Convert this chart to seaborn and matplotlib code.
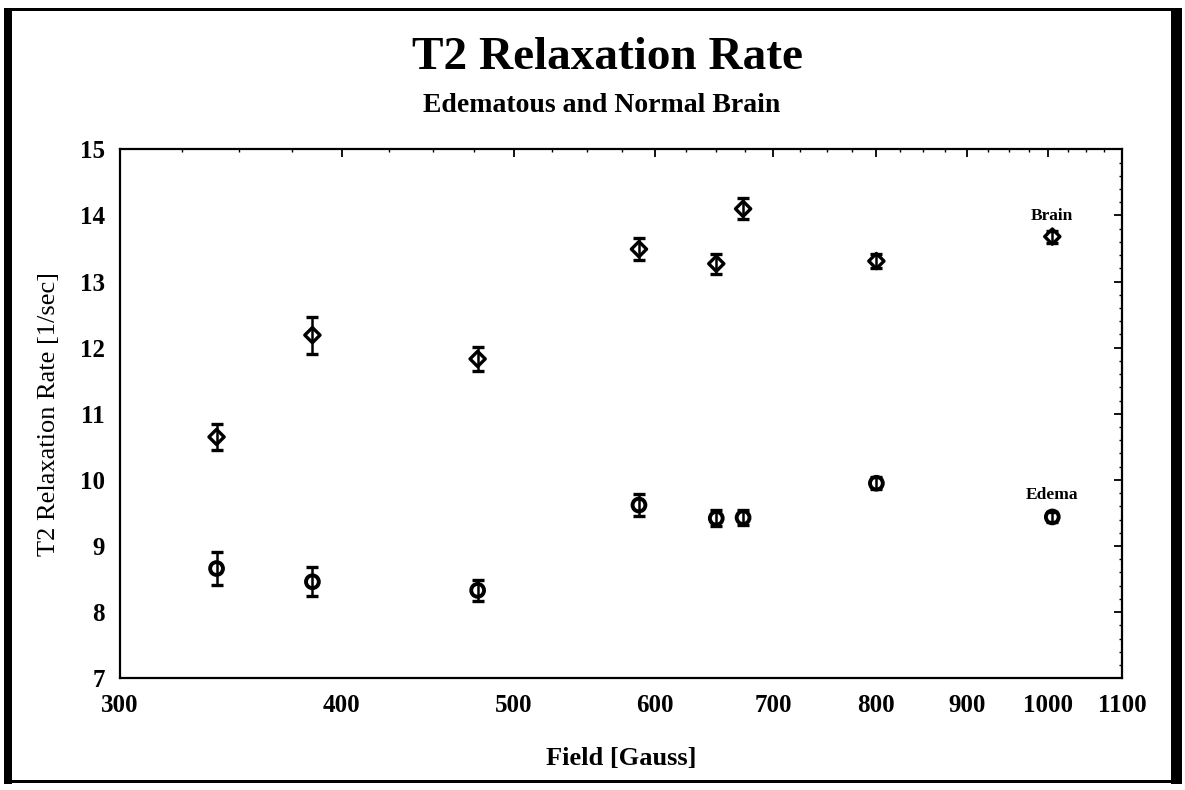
import matplotlib
matplotlib.use("Agg")
import matplotlib.pyplot as plt
from matplotlib.ticker import FixedLocator, FixedFormatter, MultipleLocator, NullFormatter
from matplotlib.patches import Rectangle
import seaborn as sns
import pandas as pd

# Field strengths [Gauss] and T2 relaxation rates [1/sec]
field = [340, 385, 477, 588, 650, 673, 800, 1005]
brain = [10.65, 12.19, 11.83, 13.49, 13.27, 14.10, 13.31, 13.68]
brain_err = [0.19, 0.28, 0.18, 0.17, 0.15, 0.16, 0.11, 0.09]
edema = [8.66, 8.46, 8.33, 9.62, 9.42, 9.43, 9.95, 9.44]
edema_err = [0.245, 0.22, 0.155, 0.165, 0.12, 0.11, 0.09, 0.07]

x_ticks = [300, 400, 500, 600, 700, 800, 900, 1000, 1100]
x_tick_labels = ["300", "400", "500", "600", "700", "800", "900", "1000", "1100"]
y_ticks = [7, 8, 9, 10, 11, 12, 13, 14, 15]

df = pd.DataFrame({"field": field, "brain": brain, "brain_err": brain_err,
                   "edema": edema, "edema_err": edema_err})

sns.set_style("white")
plt.rcParams["font.family"] = ["Liberation Serif", "DejaVu Serif"]
plt.rcParams["text.color"] = "black"
plt.rcParams["axes.labelcolor"] = "black"
plt.rcParams["xtick.color"] = "black"
plt.rcParams["ytick.color"] = "black"

fig = plt.figure(figsize=(11.85, 7.90), dpi=100)
ax = fig.add_axes([0.1013, 0.1414, 0.8455, 0.6696])

# error bars first, open markers on top
for col, err in (("brain", "brain_err"), ("edema", "edema_err")):
    ax.errorbar(df["field"], df[col], yerr=df[err], fmt="none", ecolor="black",
                elinewidth=1.8, capsize=4.2, capthick=2.4, zorder=2)

sns.scatterplot(data=df, x="field", y="brain", marker="D", s=60,
                facecolors="none", edgecolors="black", linewidth=2.4, ax=ax, zorder=3)
sns.scatterplot(data=df, x="field", y="edema", marker="o", s=85,
                facecolors="none", edgecolors="black", linewidth=2.8, ax=ax, zorder=3)

ax.set_xscale("log")
ax.set_xlim(300, 1100)
ax.set_ylim(7, 15)
ax.xaxis.set_major_locator(FixedLocator(x_ticks))
ax.xaxis.set_major_formatter(FixedFormatter(x_tick_labels))
ax.xaxis.set_minor_locator(MultipleLocator(25))
ax.xaxis.set_minor_formatter(NullFormatter())
ax.yaxis.set_major_locator(FixedLocator(y_ticks))
ax.yaxis.set_minor_locator(MultipleLocator(0.2))

ax.tick_params(which="both", direction="in", top=True, right=True, color="black")
ax.tick_params(which="major", length=6, width=1.3, labelsize=18, pad=11)
ax.tick_params(which="minor", length=2.5, width=1.0)
for lab in ax.get_xticklabels() + ax.get_yticklabels():
    lab.set_fontweight("bold")

for sp in ax.spines.values():
    sp.set_linewidth(1.6)
    sp.set_color("black")

ax.set_xlabel("Field [Gauss]", fontsize=19, fontweight="bold", labelpad=22)
ax.set_ylabel("T2 Relaxation Rate [1/sec]", fontsize=19, labelpad=14)

ax.annotate("Brain", (field[-1], brain[-1]), xytext=(0, 9), textcoords="offset points",
            ha="center", va="bottom", fontsize=12.5, fontweight="bold")
ax.annotate("Edema", (field[-1], edema[-1]), xytext=(0, 10), textcoords="offset points",
            ha="center", va="bottom", fontsize=12.5, fontweight="bold")

fig.text(0.513, 1 - 58 / 790, "T2 Relaxation Rate", ha="center", va="center",
         fontsize=34, fontweight="bold")
fig.text(0.508, 1 - 106 / 790, "Edematous and Normal Brain", ha="center", va="center",
         fontsize=20, fontweight="bold")

# page frame
W, H = 1185, 790
def box(x0, y0, x1, y1):
    fig.patches.append(Rectangle((x0 / W, 1 - y1 / H), (x1 - x0) / W, (y1 - y0) / H,
                                 transform=fig.transFigure, facecolor="black",
                                 edgecolor="none", zorder=10))
box(4, 8, 1182, 11)     # top
box(4, 8, 12, 784)      # left
box(1171, 8, 1182, 784) # right
box(4, 780, 1182, 783)  # bottom

fig.savefig("out.png", dpi=100)
